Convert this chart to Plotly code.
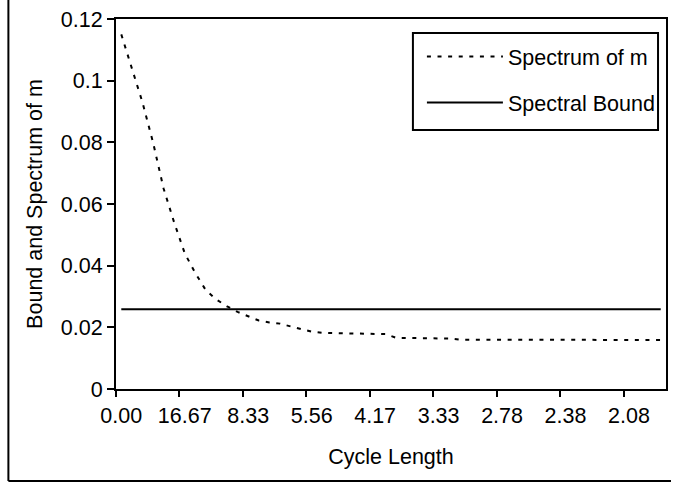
import plotly.graph_objects as go

# Category positions (harmonic index k); cycle length = 100/k, shown as 0.00 for k=0
category_index = list(range(52))
cycle_length_labels = ["0.00"] + [f"{100/k:.2f}" for k in range(1, 52)]

tick_positions = [0, 6, 12, 18, 24, 30, 36, 42, 48]
tick_labels = ["0.00", "16.67", "8.33", "5.56", "4.17", "3.33", "2.78", "2.38", "2.08"]

spectrum_of_m = [
    0.1150, 0.1040, 0.0930, 0.0800, 0.0650, 0.0540, 0.0440, 0.0376, 0.0320, 0.0290,
    0.0268, 0.0250, 0.0235, 0.0222, 0.0216, 0.0212, 0.0203, 0.0194, 0.0186, 0.0182,
    0.0181, 0.0180, 0.0180, 0.0179, 0.0179, 0.0178, 0.0166, 0.0165, 0.0165, 0.0164,
    0.0164, 0.0164, 0.0160, 0.0160, 0.0160, 0.0160, 0.0159, 0.0159, 0.0159, 0.0159,
    0.0159, 0.0159, 0.0159, 0.0159, 0.0159, 0.0159, 0.0159, 0.0159, 0.0159, 0.0159,
    0.0159, 0.0159,
]
spectral_bound = [0.0259] * 52

y_ticks = [0, 0.02, 0.04, 0.06, 0.08, 0.10, 0.12]
y_tick_labels = ["0", "0.02", "0.04", "0.06", "0.08", "0.1", "0.12"]

FONT = "Arial, Liberation Sans, sans-serif"
FS = 21.5

fig = go.Figure()
fig.add_trace(go.Scatter(
    x=category_index, y=spectrum_of_m, mode="lines", name="Spectrum of m",
    line=dict(color="black", width=2, dash="4px,6.6px"),
    legendgroup="a", customdata=cycle_length_labels,
))
fig.add_trace(go.Scatter(
    x=category_index, y=spectral_bound, mode="lines", name="Spectral Bound",
    line=dict(color="black", width=2), legendgroup="b",
))

# plot area in pixels: x 116..668, y 19..389
L, R, T, B = 116, 668, 19, 389
def px(x):
    return (x - L) / (R - L)
def py(y):
    return (B - y) / (B - T)

fig.update_layout(
    width=673, height=484,
    margin=dict(l=L, r=673 - R, t=T, b=484 - B),
    paper_bgcolor="white", plot_bgcolor="white",
    font=dict(family=FONT, size=FS, color="black"),
    showlegend=True,
    legend=dict(
        x=px(414), y=py(36), xanchor="left", yanchor="top",
        borderwidth=0, bgcolor="rgba(0,0,0,0)",
        font=dict(family=FONT, size=FS, color="black"),
        itemwidth=76, indentation=9, tracegroupgap=15, traceorder="grouped",
    ),
    xaxis=dict(
        range=[-0.5, 51.5], tickmode="array", tickvals=tick_positions, ticktext=tick_labels,
        ticks="outside", ticklen=6, tickcolor="rgba(0,0,0,0)",
        minor=dict(tickmode="linear", tick0=-0.5, dtick=6, ticks="outside",
                   ticklen=6, tickwidth=2, tickcolor="black", showgrid=False),
        showline=True, linecolor="black", linewidth=2, mirror=True,
        showgrid=False, zeroline=False,
        title=dict(text="Cycle Length", font=dict(family=FONT, size=FS), standoff=22),
    ),
    yaxis=dict(
        range=[0, 0.12], tickmode="array", tickvals=y_ticks, ticktext=y_tick_labels,
        ticks="outside", ticklen=7, tickwidth=2, tickcolor="black",
        showline=True, linecolor="black", linewidth=2, mirror=True,
        showgrid=False, zeroline=False,
        title=dict(text="Bound and Spectrum of m", font=dict(family=FONT, size=FS), standoff=12),
    ),
    shapes=[
        dict(type="rect", xref="paper", yref="paper", x0=px(414), x1=px(660), y0=py(33), y1=py(130),
             line=dict(color="black", width=2), fillcolor="white", layer="above"),
        dict(type="line", xref="paper", yref="paper", x0=px(8), x1=px(8), y0=py(0), y1=py(481),
             line=dict(color="black", width=2)),
        dict(type="line", xref="paper", yref="paper", x0=px(8), x1=px(673), y0=py(481), y1=py(481),
             line=dict(color="black", width=2)),
    ],
)

fig.write_html("out.html", config={"displayModeBar": False},
               post_script="document.body.style.margin='0';")
